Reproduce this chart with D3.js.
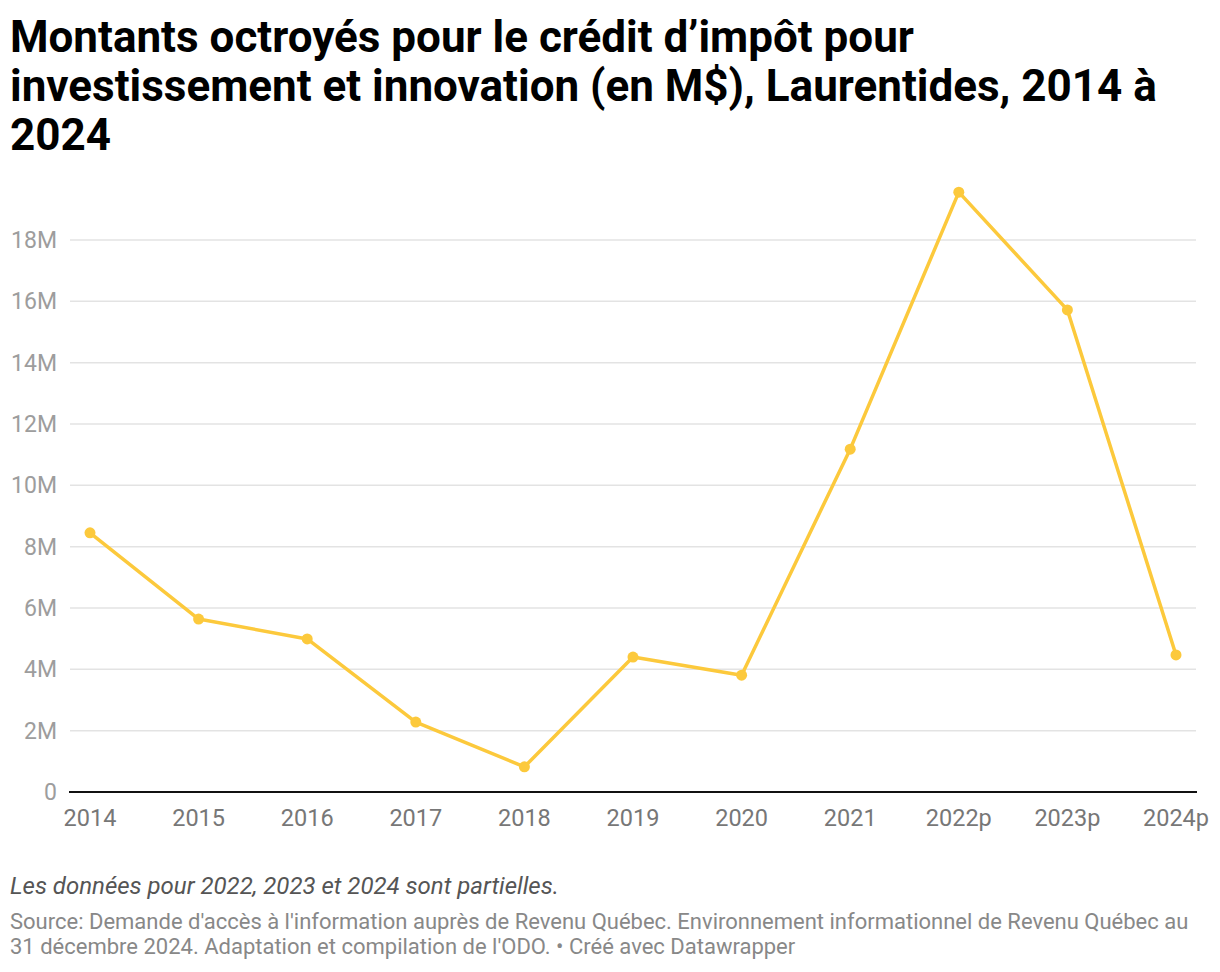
<!DOCTYPE html>
<html>
<head>
<meta charset="utf-8">
<script src="https://cdn.jsdelivr.net/npm/d3@7"></script>
<style>
  body { margin: 0; background: #fff; font-family: Roboto, sans-serif; }
  svg text { font-family: Roboto, sans-serif; }
</style>
</head>
<body>
<div id="chart"></div>
<script>
const years = ["2014", "2015", "2016", "2017", "2018", "2019", "2020", "2021", "2022p", "2023p", "2024p"];
const amounts = [8.45, 5.64, 4.99, 2.28, 0.82, 4.40, 3.81, 11.18, 19.56, 15.72, 4.47];
const yTicks = [0, 2, 4, 6, 8, 10, 12, 14, 16, 18];
const titleLines = [
  "Montants octroyés pour le crédit d’impôt pour",
  "investissement et innovation (en M$), Laurentides, 2014 à",
  "2024"
];
const noteText = "Les données pour 2022, 2023 et 2024 sont partielles.";
const sourceLines = [
  "Source: Demande d'accès à l'information auprès de Revenu Québec. Environnement informationnel de Revenu Québec au",
  "31 décembre 2024. Adaptation et compilation de l'ODO. • Créé avec Datawrapper"
];

const W = 1220, H = 972;
const svg = d3.select("#chart").append("svg")
  .attr("width", W)
  .attr("height", H);

// title
svg.append("g").selectAll("text")
  .data(titleLines)
  .enter().append("text")
  .attr("x", 10)
  .attr("y", (d, i) => 52 + i * 49)
  .style("font-size", "44px")
  .style("font-weight", "700")
  .style("fill", "#000")
  .text(d => d);

const plotLeft = 70, plotRight = 1196, plotBottom = 792;

const x = d3.scalePoint()
  .domain(years)
  .range([90, 1176]);

const y = d3.scaleLinear()
  .domain([0, 18])
  .range([plotBottom, 240]);

// grid
svg.append("g").selectAll("line")
  .data(yTicks.filter(t => t > 0))
  .enter().append("line")
  .attr("x1", plotLeft)
  .attr("x2", plotRight)
  .attr("y1", d => y(d))
  .attr("y2", d => y(d))
  .style("stroke", "#e3e3e3")
  .style("stroke-width", 1.5);

// y labels
svg.append("g").selectAll("text")
  .data(yTicks)
  .enter().append("text")
  .attr("x", 57)
  .attr("y", d => y(d) + 8)
  .attr("text-anchor", "end")
  .style("font-size", "23px")
  .style("fill", "#9d9d9d")
  .text(d => d === 0 ? "0" : d + "M");

// baseline
svg.append("line")
  .attr("x1", 69)
  .attr("x2", 1197)
  .attr("y1", y(0))
  .attr("y2", y(0))
  .style("stroke", "#111")
  .style("stroke-width", 2);

// x labels
svg.append("g").selectAll("text")
  .data(years)
  .enter().append("text")
  .attr("x", d => x(d))
  .attr("y", 826)
  .attr("text-anchor", "middle")
  .style("font-size", "23.5px")
  .style("fill", "#777")
  .text(d => d);

const data = years.map((d, i) => ({ year: d, value: amounts[i] }));

const line = d3.line()
  .x(d => x(d.year))
  .y(d => y(d.value));

svg.append("path")
  .datum(data)
  .attr("d", line)
  .style("fill", "none")
  .style("stroke", "#fcc93c")
  .style("stroke-width", 3.5)
  .style("stroke-linejoin", "round");

svg.append("g").selectAll("circle")
  .data(data)
  .enter().append("circle")
  .attr("cx", d => x(d.year))
  .attr("cy", d => y(d.value))
  .attr("r", 5.5)
  .style("fill", "#fcc93c");

// notes
svg.append("text")
  .attr("x", 10)
  .attr("y", 894)
  .style("font-size", "24px")
  .style("font-style", "italic")
  .style("fill", "#555")
  .text(noteText);

svg.append("g").selectAll("text")
  .data(sourceLines)
  .enter().append("text")
  .attr("x", 10)
  .attr("y", (d, i) => 929 + i * 25)
  .style("font-size", "22px")
  .style("fill", "#888")
  .text(d => d);
</script>
</body>
</html>
